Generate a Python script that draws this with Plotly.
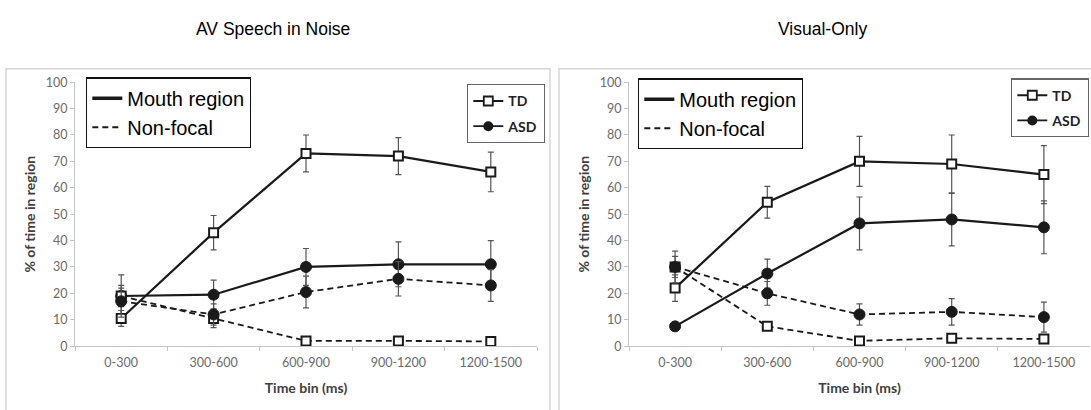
import plotly.graph_objects as go

W, H = 1091, 410

time_bins = ["0-300", "300-600", "600-900", "900-1200", "1200-1500"]
y_ticks = [0, 10, 20, 30, 40, 50, 60, 70, 80, 90, 100]

# AV Speech in Noise
av_td_mouth = [10.5, 43, 73, 72, 66]
av_td_mouth_err = [3, 6.5, 7, 7, 7.5]
av_asd_mouth = [19, 19.5, 30, 31, 31]
av_asd_mouth_err = [8, 5.5, 7, 8.5, 9]
av_td_nonfocal = [19, 10.5, 2, 2, 1.8]
av_td_nonfocal_err = [4, 3.5, 0.8, 0.8, 0.8]
av_asd_nonfocal = [17, 12, 20.5, 25.5, 23]
av_asd_nonfocal_err = [5, 4, 6, 6.5, 6]

# Visual-Only
vo_td_mouth = [22, 54.5, 70, 69, 65]
vo_td_mouth_err = [5, 6, 9.5, 11, 11]
vo_asd_mouth = [7.5, 27.5, 46.5, 48, 45]
vo_asd_mouth_err = [1, 5.5, 10, 10, 10]
vo_td_nonfocal = [30, 7.5, 2, 3, 2.7]
vo_td_nonfocal_err = [4, 1.5, 0.8, 0.8, 0.8]
vo_asd_nonfocal = [30, 20, 12, 13, 11]
vo_asd_nonfocal_err = [6, 4.5, 4, 5, 5.7]

panel_titles = ["AV Speech in Noise", "Visual-Only"]

LINE = "#1a1a1a"
ERR = "#555555"
DASH = "6px,4px"

fig = go.Figure()


def add_series(xa, ya, y, err, group, region):
    is_td = group == "TD"
    dash = "solid" if region == "mouth" else DASH
    width = 2.2 if region == "mouth" else 1.8
    if is_td:
        marker = dict(symbol="square", size=9, color="white",
                      line=dict(color=LINE, width=2))
    else:
        marker = dict(symbol="circle", size=11, color=LINE,
                      line=dict(color=LINE, width=1))
    fig.add_trace(go.Scatter(
        x=time_bins, y=y, xaxis=xa, yaxis=ya, mode="lines+markers",
        line=dict(color=LINE, width=width, dash=dash),
        marker=marker,
        error_y=dict(type="data", array=err, visible=True, color=ERR,
                     thickness=1.2, width=3),
        showlegend=False, hoverinfo="skip"))


panels = [
    ("x", "y", [(av_td_mouth, av_td_mouth_err, "TD", "mouth"),
                (av_asd_mouth, av_asd_mouth_err, "ASD", "mouth"),
                (av_td_nonfocal, av_td_nonfocal_err, "TD", "nonfocal"),
                (av_asd_nonfocal, av_asd_nonfocal_err, "ASD", "nonfocal")]),
    ("x2", "y2", [(vo_td_mouth, vo_td_mouth_err, "TD", "mouth"),
                  (vo_asd_mouth, vo_asd_mouth_err, "ASD", "mouth"),
                  (vo_td_nonfocal, vo_td_nonfocal_err, "TD", "nonfocal"),
                  (vo_asd_nonfocal, vo_asd_nonfocal_err, "ASD", "nonfocal")]),
]
for xa, ya, series in panels:
    for y, err, g, r in series:
        add_series(xa, ya, y, err, g, r)

# legend entries (dummy traces)
legend_pairs = [("legend", "legend2", "x", "y"), ("legend3", "legend4", "x2", "y2")]
for lg_region, lg_group, xa, ya in legend_pairs:
    fig.add_trace(go.Scatter(x=[None], y=[None], xaxis=xa, yaxis=ya, mode="lines",
                             name="Mouth region", legend=lg_region,
                             line=dict(color=LINE, width=3.5)))
    fig.add_trace(go.Scatter(x=[None], y=[None], xaxis=xa, yaxis=ya, mode="lines",
                             name="Non-focal", legend=lg_region,
                             line=dict(color=LINE, width=2, dash=DASH)))
    fig.add_trace(go.Scatter(x=[None], y=[None], xaxis=xa, yaxis=ya, mode="lines+markers",
                             name="<b>TD</b>", legend=lg_group, legendgroup="td",
                             line=dict(color=LINE, width=1.8),
                             marker=dict(symbol="square", size=9, color="white",
                                         line=dict(color=LINE, width=1.8))))
    fig.add_trace(go.Scatter(x=[None], y=[None], xaxis=xa, yaxis=ya, mode="lines+markers",
                             name="<b>ASD</b>", legend=lg_group, legendgroup="asd",
                             line=dict(color=LINE, width=1.8),
                             marker=dict(symbol="circle", size=10, color=LINE)))

tick_font = dict(family="Lato, Liberation Sans, sans-serif", size=12.5, color="#6b6b6b")
title_font = dict(family="Lato, Liberation Sans, sans-serif", size=14, color="#404040")
AX = "#c4c4c4"

y_bot = 1 - 351 / H
y_top = 1 - 77 / H

xaxis_common = dict(
    type="category", range=[-0.5, 4.5], showline=True, linecolor=AX, linewidth=1,
    ticks="outside", tickson="boundaries", ticklen=4, tickcolor=AX,
    showgrid=False, zeroline=False, tickfont=tick_font, ticklabelstandoff=5,
    title=dict(text="<b>Time bin (ms)</b>", font=title_font, standoff=14),
)
yaxis_common = dict(
    range=[0, 100], tickvals=y_ticks, showline=True, linecolor=AX, linewidth=1,
    ticks="outside", ticklen=4, tickcolor=AX, showgrid=False, zeroline=False,
    tickfont=tick_font,
    title=dict(text="<b>% of time in region</b>", font=title_font, standoff=6),
    domain=[y_bot, y_top],
)

legend_region_style = dict(
    bgcolor="white", bordercolor="#111111", borderwidth=1.3,
    font=dict(family="Liberation Sans, Arial, sans-serif", size=20, color="black"),
    xanchor="left", yanchor="top", tracegroupgap=0, itemclick=False,
)
legend_group_style = dict(
    bgcolor="white", bordercolor="#666666", borderwidth=1.3,
    font=dict(family="Lato, Liberation Sans, sans-serif", size=14, color="#222222"),
    yanchor="top", tracegroupgap=4, itemclick=False,
)

fig.update_layout(
    width=W, height=H, margin=dict(l=0, r=0, t=0, b=0),
    paper_bgcolor="white", plot_bgcolor="white",
    xaxis=dict(domain=[75 / W, 537 / W], anchor="y", **xaxis_common),
    yaxis=dict(anchor="x", **yaxis_common),
    xaxis2=dict(domain=[629 / W, 1090 / W], anchor="y2", **xaxis_common),
    yaxis2=dict(anchor="x2", **yaxis_common),
    legend=dict(x=86 / W, y=1 - 72 / H, **legend_region_style),
    legend2=dict(x=467 / W, y=1 - 79 / H, xanchor="left", **legend_group_style),
    legend3=dict(x=638 / W, y=1 - 73 / H, **legend_region_style),
    legend4=dict(x=1089 / W, y=1 - 73 / H, xanchor="right", **legend_group_style),
    showlegend=True,
)

# panel frames
fig.add_shape(type="rect", xref="paper", yref="paper",
              x0=6 / W, x1=550 / W, y0=-0.2, y1=1 - 63 / H,
              line=dict(color="#d6d6d6", width=1.5), layer="below")
fig.add_shape(type="rect", xref="paper", yref="paper",
              x0=559 / W, x1=1.2, y0=-0.2, y1=1 - 63 / H,
              line=dict(color="#d6d6d6", width=1.5), layer="below")

# panel titles
for cx, t in zip([273, 822], panel_titles):
    fig.add_annotation(x=cx / W, y=1 - 22 / H, xref="paper", yref="paper",
                       text=t, showarrow=False, xanchor="center", yanchor="middle",
                       font=dict(family="Liberation Sans, Arial, sans-serif", size=17.5,
                                 color="black"))

fig.write_html("out.html")
